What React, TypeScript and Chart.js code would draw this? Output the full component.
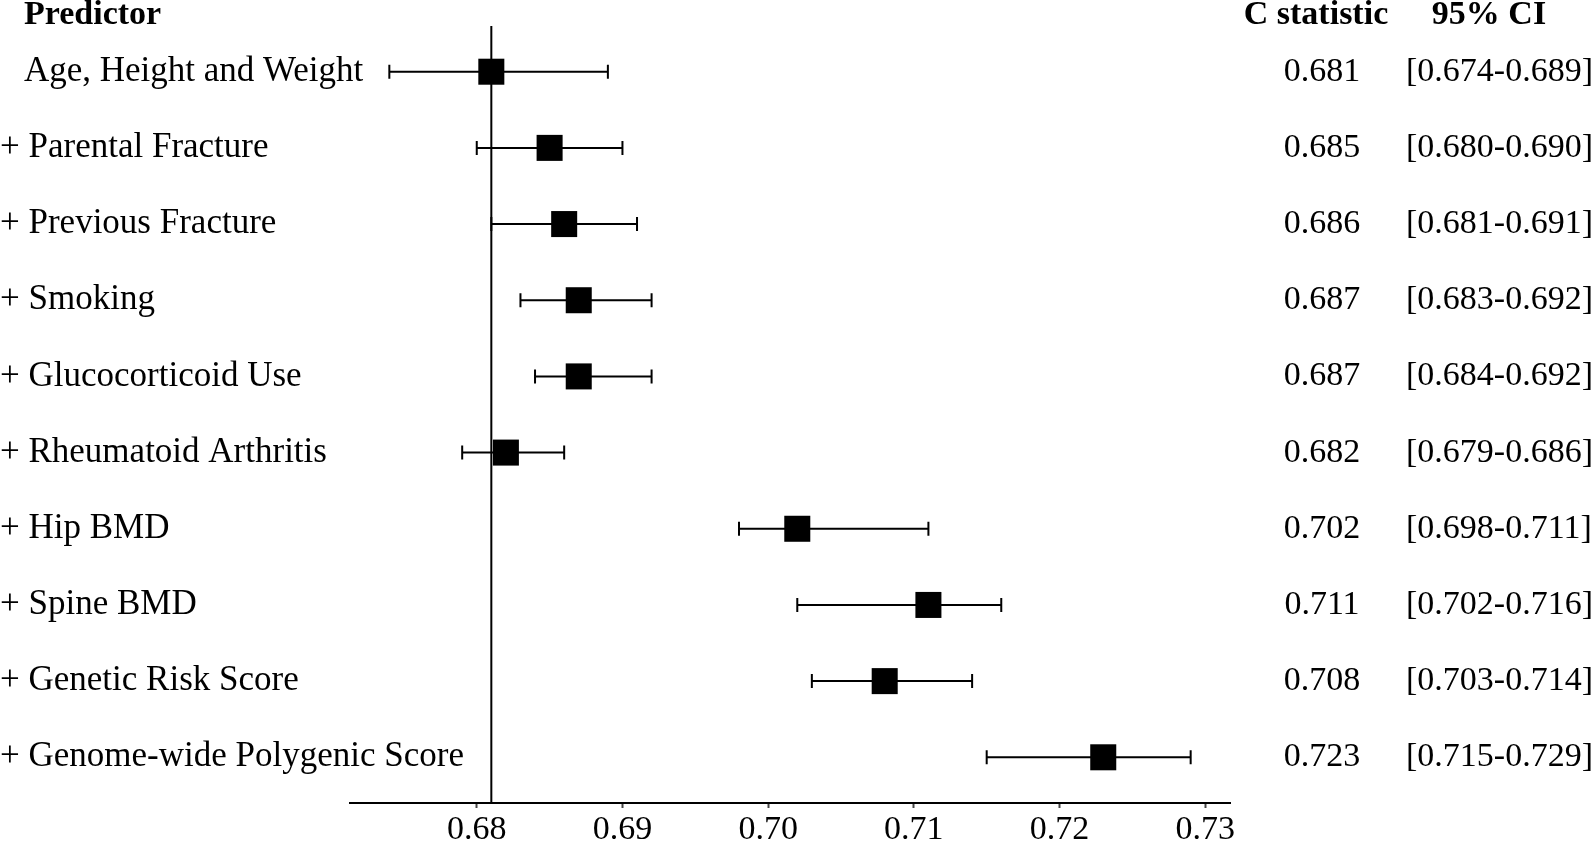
import React, { useEffect, useRef } from 'react';
import { Chart, registerables } from 'chart.js';

Chart.register(...registerables);

const predictors = [
  'Age, Height and Weight',
  '+ Parental Fracture',
  '+ Previous Fracture',
  '+ Smoking',
  '+ Glucocorticoid Use',
  '+ Rheumatoid Arthritis',
  '+ Hip BMD',
  '+ Spine BMD',
  '+ Genetic Risk Score',
  '+ Genome-wide Polygenic Score',
];
const cStatistic = [0.681, 0.685, 0.686, 0.687, 0.687, 0.682, 0.702, 0.711, 0.708, 0.723];
const ciLower = [0.674, 0.68, 0.681, 0.683, 0.684, 0.679, 0.698, 0.702, 0.703, 0.715];
const ciUpper = [0.689, 0.69, 0.691, 0.692, 0.692, 0.686, 0.711, 0.716, 0.714, 0.729];
const xTicks = [0.68, 0.69, 0.7, 0.71, 0.72, 0.73];
const referenceValue = 0.681;
const headerPredictor = 'Predictor';
const headerStat = 'C statistic';
const headerCI = '95% CI';

const SERIF = '"Liberation Serif", "Times New Roman", serif';

const forestPlugin = {
  id: 'forestExtras',
  beforeDatasetsDraw(chart: any) {
    const { ctx, chartArea, scales } = chart;
    const x = scales.x;
    const y = scales.y;
    ctx.save();
    ctx.strokeStyle = '#000';
    ctx.lineWidth = 2;
    const rx = x.getPixelForValue(referenceValue);
    ctx.beginPath();
    ctx.moveTo(rx, chartArea.top);
    ctx.lineTo(rx, chartArea.bottom);
    ctx.stroke();
    const cap = 7;
    cStatistic.forEach((_, i) => {
      const py = y.getPixelForValue(i);
      const x1 = x.getPixelForValue(ciLower[i]);
      const x2 = x.getPixelForValue(ciUpper[i]);
      ctx.beginPath();
      ctx.moveTo(x1, py);
      ctx.lineTo(x2, py);
      ctx.moveTo(x1, py - cap);
      ctx.lineTo(x1, py + cap);
      ctx.moveTo(x2, py - cap);
      ctx.lineTo(x2, py + cap);
      ctx.stroke();
    });
    ctx.restore();
  },
  afterDraw(chart: any) {
    const { ctx, scales } = chart;
    const y = scales.y;
    ctx.save();
    ctx.fillStyle = '#000';
    ctx.textBaseline = 'middle';
    ctx.font = `bold 34px ${SERIF}`;
    ctx.textAlign = 'left';
    ctx.fillText(headerPredictor, 24, 15);
    ctx.textAlign = 'center';
    ctx.fillText(headerStat, 1316, 15);
    ctx.fillText(headerCI, 1489, 15);

    ctx.font = `35px ${SERIF}`;
    ctx.textAlign = 'left';
    predictors.forEach((label, i) => {
      const py = y.getPixelForValue(i);
      ctx.fillText(label, label.startsWith('+') ? 0 : 24, py);
    });

    ctx.font = `34px ${SERIF}`;
    cStatistic.forEach((v, i) => {
      const py = y.getPixelForValue(i);
      ctx.textAlign = 'center';
      ctx.fillText(v.toFixed(3), 1322, py);
      ctx.textAlign = 'left';
      ctx.fillText(`[${ciLower[i].toFixed(3)}-${ciUpper[i].toFixed(3)}]`, 1406, py);
    });
    ctx.restore();
  },
};

export default function App() {
  const canvasRef = useRef<HTMLCanvasElement | null>(null);

  useEffect(() => {
    if (!canvasRef.current) return;
    const chart = new Chart(canvasRef.current, {
      type: 'scatter',
      data: {
        datasets: [
          {
            data: cStatistic.map((v, i) => ({ x: v, y: i })),
            pointStyle: 'rect',
            pointRadius: 18.4,
            pointHoverRadius: 18.4,
            backgroundColor: '#000',
            borderColor: '#000',
            borderWidth: 0,
          },
        ],
      },
      options: {
        animation: false,
        responsive: false,
        events: [],
        layout: { padding: { left: 350, right: 363, top: 26, bottom: 0 } },
        plugins: { legend: { display: false }, tooltip: { enabled: false } },
        scales: {
          x: {
            type: 'linear',
            min: 0.6713,
            max: 0.7317,
            afterBuildTicks: (scale: any) => {
              scale.ticks = xTicks.map((v) => ({ value: v }));
            },
            afterFit: (scale: any) => {
              scale.height = 41;
            },
            ticks: {
              callback: (v: any) => Number(v).toFixed(2),
              font: { family: SERIF, size: 34, lineHeight: 0.94 },
              color: '#000',
              padding: 6,
              maxRotation: 0,
              autoSkip: false,
            },
            grid: {
              drawOnChartArea: false,
              drawTicks: true,
              tickLength: 5,
              tickColor: '#444',
              tickWidth: 2,
            },
            border: { color: '#000', width: 2 },
          },
          y: {
            type: 'linear',
            reverse: true,
            min: -0.6,
            max: 9.6,
            display: false,
          },
        },
      },
      plugins: [forestPlugin],
    });
    return () => chart.destroy();
  }, []);

  return (
    <div style={{ position: 'fixed', left: 0, top: 0, width: 1593, height: 844, background: '#fff' }}>
      <canvas ref={canvasRef} width={1593} height={844} style={{ display: 'block' }} />
    </div>
  );
}
